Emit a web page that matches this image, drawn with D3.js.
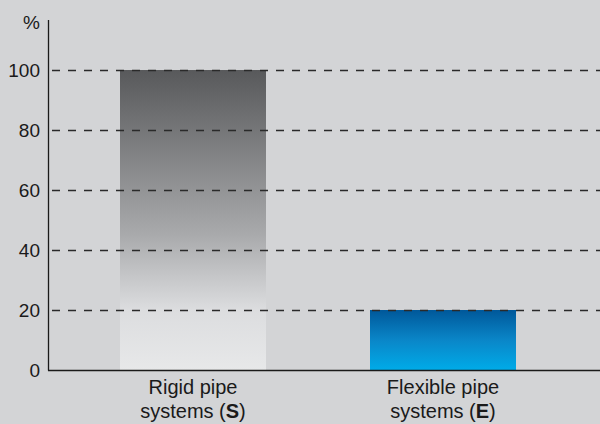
<!DOCTYPE html>
<html>
<head>
<meta charset="utf-8">
<script src="https://cdn.jsdelivr.net/npm/d3@7"></script>
<style>
  body { margin: 0; background: #d3d4d6; }
  svg { display: block; }
  text { font-family: "Liberation Sans", Arial, sans-serif; fill: #1a1a1a; }
</style>
</head>
<body>
<svg id="chart"></svg>
<script>
// chart data
const categories = ['Rigid pipe systems (S)', 'Flexible pipe systems (E)']
const labelLines = [['Rigid pipe', 'systems (', 'S', ')'], ['Flexible pipe', 'systems (', 'E', ')']]
const values = [100, 20]
const yTicks = [0, 20, 40, 60, 80, 100]

const W = 600
const H = 424

const margin = { top: 20, right: 0, bottom: 54, left: 48 }

const svg = d3.select('#chart')
  .attr('width', W)
  .attr('height', H)

svg.append('rect').attr('width', W).attr('height', H).attr('fill', '#d3d4d6')

const yScale = d3.scaleLinear()
  .domain([0, 100])
  .range([370, 70])

const xScale = d3.scaleBand()
  .domain(categories)
  .range([68, 568])
  .paddingInner(0.416)
  .paddingOuter(0.208)

// gradients
const defs = svg.append('defs')
const grads = [
  { id: 'gGray', stops: [[0, '#58595b'], [0.55, '#a9aaac'], [0.8, '#dcdddf'], [1, '#e7e8e9']] },
  { id: 'gBlue', stops: [[0, '#00589a'], [0.5, '#0a86c8'], [1, '#00abe8']] }
]
grads.forEach(g => {
  const lg = defs.append('linearGradient').attr('id', g.id)
    .attr('x1', 0).attr('y1', 0).attr('x2', 0).attr('y2', 1)
  g.stops.forEach(s => lg.append('stop').attr('offset', s[0]).attr('stop-color', s[1]))
})

// bars
svg.selectAll('.bar')
  .data(values)
  .join('rect')
  .attr('class', 'bar')
  .attr('x', (d, i) => xScale(categories[i]))
  .attr('width', xScale.bandwidth())
  .attr('y', d => yScale(d))
  .attr('height', d => yScale(0) - yScale(d))
  .attr('fill', (d, i) => `url(#${grads[i].id})`)

// dashed gridlines
svg.selectAll('.grid')
  .data(yTicks.filter(d => d > 0))
  .join('line')
  .attr('class', 'grid')
  .attr('x1', margin.left)
  .attr('x2', W)
  .attr('y1', d => yScale(d) + 0.5)
  .attr('y2', d => yScale(d) + 0.5)
  .attr('stroke', '#2a2a2a')
  .attr('stroke-width', 1.3)
  .attr('stroke-dasharray', '8,8')
  .attr('stroke-dashoffset', -4)

// axes
const yAxis = d3.axisLeft(yScale).tickValues(yTicks).tickSize(0).tickPadding(8)
const gy = svg.append('g').attr('transform', `translate(${margin.left},0)`).call(yAxis)
gy.select('.domain').remove()
gy.selectAll('text').style('font-size', '19px').attr('fill', '#1a1a1a')
  .style('font-family', '"Liberation Sans", Arial, sans-serif').attr('dy', '0.36em')

svg.append('line')
  .attr('x1', margin.left + 0.5).attr('x2', margin.left + 0.5)
  .attr('y1', margin.top).attr('y2', yScale(0) + 0.5)
  .attr('stroke', '#1a1a1a').attr('stroke-width', 1.3)
svg.append('line')
  .attr('x1', margin.left).attr('x2', W)
  .attr('y1', yScale(0) + 0.5).attr('y2', yScale(0) + 0.5)
  .attr('stroke', '#1a1a1a').attr('stroke-width', 1.3)

svg.append('text')
  .attr('x', 40).attr('y', 29)
  .attr('text-anchor', 'end')
  .style('font-size', '19px')
  .text('%')

// category labels
labelLines.forEach((lines, i) => {
  const cx = xScale(categories[i]) + xScale.bandwidth() / 2
  svg.append('text')
    .attr('x', cx).attr('y', 394)
    .attr('text-anchor', 'middle')
    .style('font-size', '20px')
    .text(lines[0])
  const t2 = svg.append('text')
    .attr('x', cx).attr('y', 418)
    .attr('text-anchor', 'middle')
    .style('font-size', '20px')
  t2.append('tspan').text(lines[1])
  t2.append('tspan').style('font-weight', 'bold').text(lines[2])
  t2.append('tspan').text(lines[3])
})
</script>
</body>
</html>
